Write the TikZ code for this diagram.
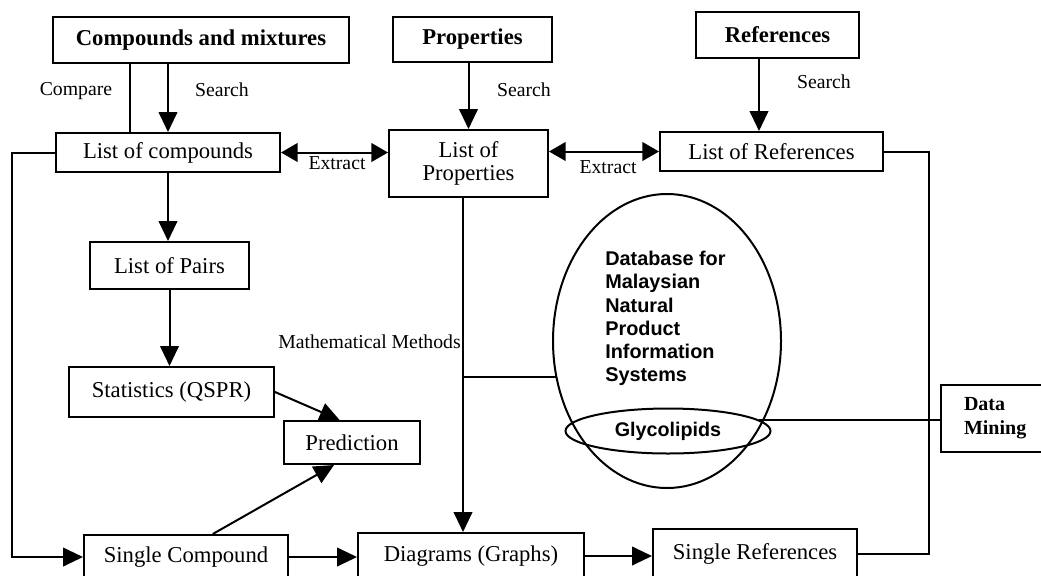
\documentclass[tikz,border=0pt]{standalone}
\usepackage{fontspec}
\setmainfont{Liberation Serif}
\newfontfamily\arialfont{Liberation Sans}
\usetikzlibrary{arrows.meta,shapes.geometric,calc,positioning}

\begin{document}
\begin{tikzpicture}[x=0.75pt,y=0.75pt,yscale=-1,xscale=1,
  box/.style={draw,line width=1.5pt,inner sep=0pt,font=\fontsize{17}{20}\selectfont},
  hbox/.style={box,font=\fontsize{17}{20}\selectfont\bfseries},
  lbl/.style={font=\fontsize{14.8}{17}\selectfont,inner sep=0pt},
  ln/.style={line width=1.5pt},
  arr/.style={ln,-{Triangle[length=15pt,width=14pt]}},
  dblarr/.style={ln,{Triangle[length=12.5pt,width=14pt]}-{Triangle[length=12.5pt,width=14pt]}}]
\useasboundingbox (0,0) rectangle (1041,575);
\clip (0,0) rectangle (1041,575);

%guide lines
\coordinate (xl) at (12,0);
\coordinate (xr) at (929,0);
\coordinate (xc) at (130,0);
\coordinate (xs) at (759,0);
\coordinate (xm) at (463,0);

%Shape: top boxes
\node[hbox,minimum width=222pt,minimum height=34.5pt] (cmix) at (201,40) {Compounds and mixtures};
\node[hbox,minimum width=119.25pt,minimum height=33.75pt] (prop) at (472.5,39.5) {Properties};
\node[hbox,minimum width=122.25pt,minimum height=34.5pt] (refs) at (777.5,35) {References};

%Shape: lists
\node[box,minimum width=168pt,minimum height=29.25pt] (lcomp) at (168,152.5) {List of compounds};
\node[box,minimum width=119.25pt,minimum height=50.25pt,align=center,font=\fontsize{17}{17.5}\selectfont] (lprop) at (468.5,163.5) {List of\\Properties};
\node[box,minimum width=167.25pt,minimum height=29.25pt] (lref) at (771.5,151.5) {List of References};
\node[box,minimum width=119.25pt,minimum height=35.25pt] (pairs) at (169.5,265.5) {List of Pairs};
\node[box,minimum width=153.75pt,minimum height=37.5pt] (stat) at (171.5,392) {Statistics (QSPR)};
\node[box,minimum width=102pt,minimum height=32.25pt] (pred) at (352,442.5) {Prediction};

%Shape: bottom boxes
\node[box,minimum width=153pt,minimum height=33pt] (scomp) at (186,557) {Single Compound};
\node[box,minimum width=169.5pt,minimum height=34.5pt] (diag) at (471,556) {Diagrams (Graphs)};
\node[box,minimum width=153pt,minimum height=37.5pt] (sref) at (755,554) {Single References};
\node[box,font=\fontsize{15}{18}\selectfont\bfseries,anchor=west,minimum height=50.25pt,inner xsep=17.25pt,text width=70pt,align=left] (dmin) at (940,418.5) {Data\\Mining};

%Shape: database ellipses
\node[draw,ellipse,ln,minimum width=171pt,minimum height=220.5pt,inner sep=0pt] (dbase) at (667,341) {};
\node[draw,ellipse,ln,minimum width=153.75pt,minimum height=33.75pt,inner sep=0pt,font=\arialfont\bfseries\fontsize{14.8}{17}\selectfont] (glyco) at (668,431) {Glycolipids};
\node[anchor=north west,align=left,inner sep=0pt,font=\arialfont\bfseries\fontsize{14.9}{17.4}\selectfont] (dbtext) at (605,251) {Database for\\Malaysian\\Natural\\Product\\Information\\Systems};

% Text Node
\node[lbl] (cmp) at (76,91) {Compare};
\node[lbl] (srch1) at (222,90) {Search};
\node[lbl] (srch2) at (524,90) {Search};
\node[lbl] (srch3) at (824,82) {Search};
\node[lbl] (extr1) at (337,163) {Extract};
\node[lbl] (extr2) at (608,167) {Extract};
\node[lbl,anchor=east] (math) at (461,342) {Mathematical Methods};

%Straight Lines
\draw[arr] (cmix.south -| lcomp) -- (lcomp.north);
\draw[ln] (cmix.south -| xc) -- (lcomp.north -| xc);
\draw[arr] (prop.south -| lprop) -- (lprop.north);
\draw[arr] (refs.south -| xs) -- (lref.north -| xs);
\draw[dblarr] (lcomp.east) -- (lcomp.east -| lprop.west);
\draw[dblarr] (lref.west -| lprop.east) -- (lref.west);
\draw[arr] (lcomp.south) -- (lcomp.south |- pairs.north);
\draw[arr] (pairs.south) -- (pairs.south |- stat.north);
\draw[arr] (stat.east) -- ($(pred.north west)!0.41!(pred.north east)$);
\draw[arr] ($(scomp.north west)!0.63!(scomp.north east)$) -- ($(pred.south west)!0.37!(pred.south east)$);
\draw[arr] (lcomp.west) -- (lcomp.west -| xl) |- (scomp.west);
\draw[arr] (scomp.east) -- (scomp.east -| diag.west);
\draw[arr] (diag.east) -- (diag.east -| sref.west);
\draw[arr] (lprop.south -| xm) -- (diag.north -| xm);
\draw[ln] (dbase.198) -- (dbase.198 -| xm);
\draw[ln] (lref.east) -- (lref.east -| xr) |- (sref.east);
\draw[ln] (glyco.7) -- (glyco.7 -| dmin.west);

\end{tikzpicture}
\end{document}
